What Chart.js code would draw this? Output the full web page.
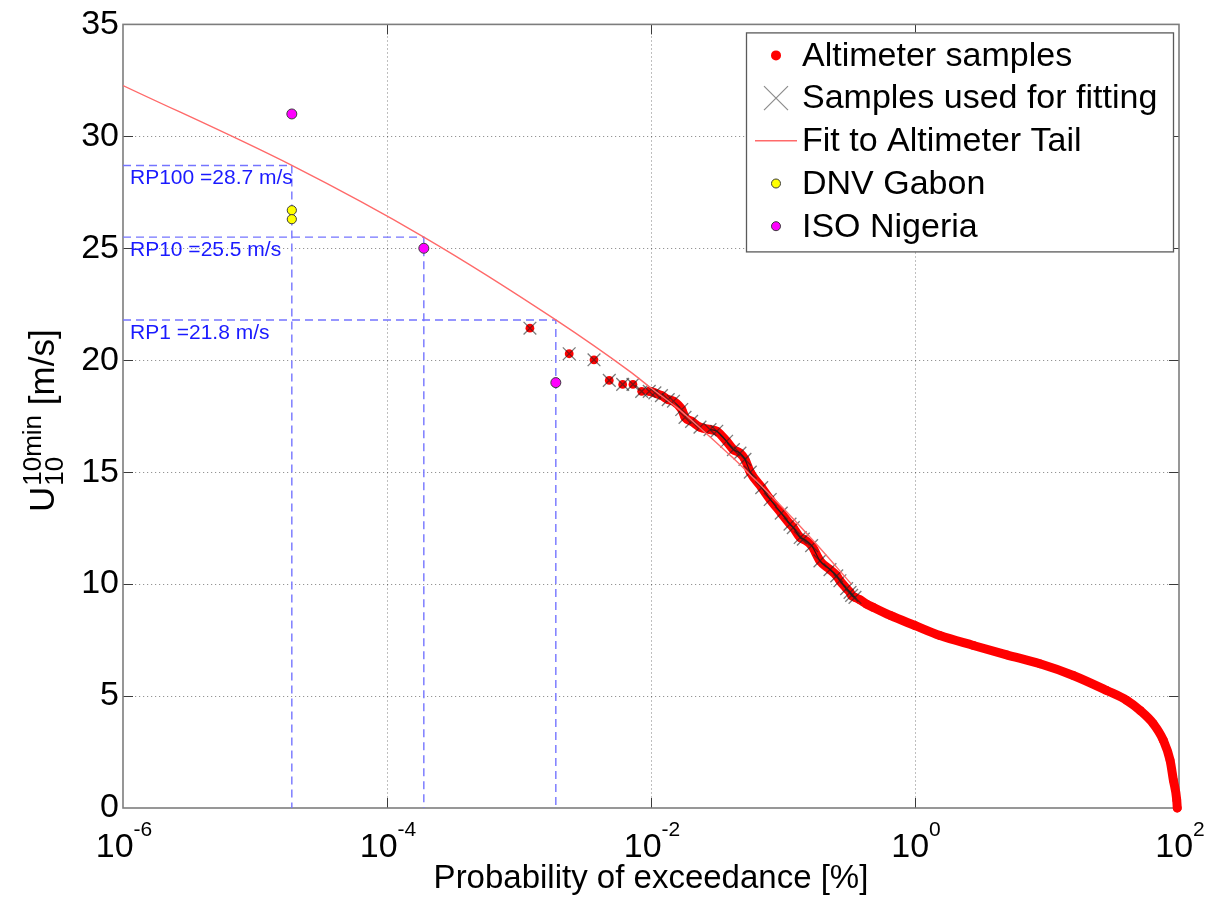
<!DOCTYPE html>
<html><head><meta charset="utf-8">
<script src="https://cdn.jsdelivr.net/npm/chart.js@4.4.1/dist/chart.umd.min.js"></script>
<style>html,body{margin:0;padding:0;background:#fff;}#wrap{width:1209px;height:899px;}</style>
</head><body><div id="wrap"><canvas id="c" width="1209" height="899"></canvas></div>
<script>
const FONT = "'Liberation Sans', Arial, Helvetica, sans-serif";

// Altimeter samples: probability of exceedance [%] and U10 (10 min) [m/s]
const altProb = [0.00121,0.00240,0.00370,0.00483,0.0061,0.0073,0.0085,0.0097,0.0107,0.0120,0.0135,0.0148,0.0171,0.0181,0.0203,0.0235,0.0280,0.0315,0.0374,0.0421,0.0472,0.0515,0.0565,0.069,0.080,0.097,0.113,0.1197,0.135,0.1426,0.1648,0.1905,0.227,0.2553,0.270,0.3034,0.322,0.3311,0.351,0.383,0.43,0.483,0.65,1.0,1.545,2.77,4.95,8.85,15.8,28.3,40.2,50.7,63.8,76.0,85.5,90.6,96.1,97.0];
const altSpeed = [21.43,20.29,20.02,19.10,18.92,18.92,18.61,18.61,18.54,18.42,18.24,18.17,17.80,17.45,17.27,17.01,16.90,16.83,16.38,16.01,15.85,15.57,15.0,14.31,13.78,13.17,12.68,12.52,12.08,12.01,11.72,11.04,10.65,10.37,10.15,9.80,9.63,9.50,9.41,9.30,9.11,8.96,8.60,8.15,7.70,7.26,6.84,6.44,5.92,5.25,4.81,4.36,3.77,3.03,2.14,1.25,0.36,0.0];
// samples used for fitting: the altimeter tail up to this probability [%]
const fitTailLimit = 0.36;
// Fit to altimeter tail
const fitProb = [1e-6,1.901e-5,1.901e-4,1.901e-3,0.0069,0.01,0.0158,0.0251,0.0417,0.0562,0.1,0.178,0.33];
const fitSpeed = [32.27,28.7,25.5,21.8,19.5,18.76,17.87,16.83,15.64,14.9,13.4,11.8,10.0];
// Return periods
const rpNames = ['RP100','RP10','RP1'];
const rpProb = [1.901e-5,1.901e-4,1.901e-3];
const rpSpeed = [28.7,25.5,21.8];
// Reference design values
const dnvProb = [1.901e-5,1.901e-5];
const dnvSpeed = [26.7,26.3];
const isoProb = [1.901e-5,1.901e-4,1.901e-3];
const isoSpeed = [31.0,25.0,19.0];
// Axes
const xTickExps = [-6,-4,-2,0,2];
const yTickValues = [0,5,10,15,20,25,30,35];

const pts = (xs, ys) => xs.map((v,i)=>({x:v,y:ys[i]}));
const fitSampleIdx = altProb.map((p,i)=>i).filter(i=>altProb[i] <= fitTailLimit);

const C = {
  red:'#ff0000', fit:'#ff6a6a', rp:'#7474ff', rpText:'#1a1aff',
  yellow:'#ffff00', magenta:'#ff00ff', edge:'#3c3c3c', xmark:'rgba(35,35,35,0.6)'
};

const rpSets = rpNames.map((n,i)=>({
  label:n, data:[{x:10**xTickExps[0],y:rpSpeed[i]},{x:rpProb[i],y:rpSpeed[i]},{x:rpProb[i],y:0}],
  showLine:true, borderColor:C.rp, borderWidth:1.4, borderDash:[8,5], pointRadius:0, tension:0, order:10
}));

const decor = {
  id:'decor',
  beforeDatasetsDraw(chart){
    const {ctx, chartArea:a, scales:{x,y}} = chart;
    ctx.save();
    const ln=(x1,y1,x2,y2)=>{ctx.beginPath();ctx.moveTo(x1,y1);ctx.lineTo(x2,y2);ctx.stroke();};
    ctx.strokeStyle='rgba(0,0,0,0.42)'; ctx.lineWidth=1; ctx.setLineDash([1.2,2.8]);
    yTickValues.forEach(v=>{ if(v<=0||v>=35) return; const p=Math.round(y.getPixelForValue(v))+0.5; ln(a.left,p,a.right,p); });
    xTickExps.forEach(e=>{ if(e<=-6||e>=2) return; const p=Math.round(x.getPixelForValue(10**e))+0.5; ln(p,a.top,p,a.bottom); });
    ctx.setLineDash([]);
    ctx.strokeStyle='#3a3a3a'; ctx.lineWidth=1;
    yTickValues.forEach(v=>{ if(v<=0||v>=35) return; const p=Math.round(y.getPixelForValue(v))+0.5; ln(a.left,p,a.left+10,p); ln(a.right-10,p,a.right,p); });
    xTickExps.forEach(e=>{ if(e<=-6||e>=2) return; const p=Math.round(x.getPixelForValue(10**e))+0.5; ln(p,a.bottom,p,a.bottom-10); ln(p,a.top,p,a.top+10); });
    ctx.strokeStyle='#7d7d7d'; ctx.lineWidth=1.6;
    ctx.strokeRect(a.left,a.top,a.right-a.left,a.bottom-a.top);
    ctx.restore();
  },
  afterDatasetsDraw(chart){
    const {ctx, chartArea:a, scales:{x,y}} = chart;
    ctx.save();
    // RP labels
    ctx.font = "21px "+FONT; ctx.fillStyle=C.rpText; ctx.textBaseline='alphabetic'; ctx.textAlign='left';
    rpNames.forEach((n,i)=>{
      ctx.fillText(n+' ='+rpSpeed[i].toFixed(1)+' m/s', x.getPixelForValue(10**xTickExps[0])+7, y.getPixelForValue(rpSpeed[i])+19);
    });
    // legend
    const L = a.right-433, T = a.top+8, W = 427, H = 219;
    ctx.fillStyle='#fff'; ctx.fillRect(L,T,W,H);
    ctx.strokeStyle='#5a5a5a'; ctx.lineWidth=1.3; ctx.strokeRect(L+0.5,T+0.5,W,H);
    const names = ['Altimeter samples','Samples used for fitting','Fit to Altimeter Tail','DNV Gabon','ISO Nigeria'];
    const mx = L+30;
    names.forEach((n,i)=>{
      const cy = T+23+i*42.7;
      if(i===0){ ctx.fillStyle=C.red; ctx.beginPath(); ctx.arc(mx,cy,5,0,Math.PI*2); ctx.fill(); }
      if(i===1){ ctx.strokeStyle='#8c8c8c'; ctx.lineWidth=1.2; ctx.beginPath(); ctx.moveTo(mx-12,cy-12); ctx.lineTo(mx+12,cy+12); ctx.moveTo(mx-12,cy+12); ctx.lineTo(mx+12,cy-12); ctx.stroke(); }
      if(i===2){ ctx.strokeStyle=C.fit; ctx.lineWidth=1.4; ctx.beginPath(); ctx.moveTo(L+9,cy); ctx.lineTo(L+51,cy); ctx.stroke(); }
      if(i===3||i===4){ ctx.fillStyle=i===3?C.yellow:C.magenta; ctx.strokeStyle=C.edge; ctx.lineWidth=1; ctx.beginPath(); ctx.arc(mx,cy,4.5,0,Math.PI*2); ctx.fill(); ctx.stroke(); }
      ctx.fillStyle='#000'; ctx.font="34px "+FONT; ctx.textBaseline='middle'; ctx.textAlign='left';
      ctx.fillText(n, L+56, cy+1);
    });
    ctx.restore();
  },
  afterDraw(chart){
    const {ctx, chartArea:a, scales:{x}} = chart;
    ctx.save();
    ctx.fillStyle='#000'; ctx.textBaseline='alphabetic'; ctx.textAlign='left';
    // x tick labels 10^e
    xTickExps.forEach(e=>{
      const px = x.getPixelForValue(10**e);
      ctx.font="34px "+FONT; const w1=ctx.measureText('10').width;
      const es = (e<0?'-':'')+Math.abs(e);
      ctx.font="21px "+FONT; const w2=ctx.measureText(es).width;
      const s = px-(w1+w2)/2+1;
      ctx.font="34px "+FONT; ctx.fillText('10', s, a.bottom+49);
      ctx.font="21px "+FONT; ctx.fillText(es, s+w1, a.bottom+28);
    });
    // y axis title U_10^10min [m/s]
    const cy = (a.top+a.bottom)/2+5, bx = 54;
    ctx.translate(bx, cy); ctx.rotate(-Math.PI/2);
    ctx.font="35px "+FONT; const wU=ctx.measureText('U').width;
    ctx.font="26px "+FONT; const wSub=ctx.measureText('10').width, wSup=ctx.measureText('10min').width;
    ctx.font="35px "+FONT; const wUnit=ctx.measureText(' [m/s]').width;
    const total = wU+Math.max(wSub,wSup)+wUnit;
    let sx = -total/2;
    ctx.font="35px "+FONT; ctx.fillText('U', sx, 0); sx+=wU;
    ctx.font="26px "+FONT; ctx.fillText('10', sx+1, 9); ctx.fillText('10min', sx+1, -13); sx+=Math.max(wSub,wSup)+1;
    ctx.font="35px "+FONT; ctx.fillText(' [m/s]', sx, 0);
    ctx.restore();
  }
};

Chart.defaults.font.family = FONT;
Chart.defaults.color = '#000';

new Chart(document.getElementById('c'), {
  type:'line',
  data:{ datasets:[
    { label:'ISO Nigeria', data:pts(isoProb,isoSpeed), showLine:false, pointRadius:5, pointBackgroundColor:C.magenta, pointBorderColor:C.edge, pointBorderWidth:1, order:0 },
    { label:'DNV Gabon', data:pts(dnvProb,dnvSpeed), showLine:false, pointRadius:4.6, pointBackgroundColor:C.yellow, pointBorderColor:C.edge, pointBorderWidth:1, order:1 },
    { label:'Fit to Altimeter Tail', data:pts(fitProb,fitSpeed), showLine:true, borderColor:C.fit, borderWidth:1.4, pointRadius:0, cubicInterpolationMode:'monotone', order:2 },
    { label:'Samples used for fitting', data:fitSampleIdx.map(i=>({x:altProb[i],y:altSpeed[i]})), showLine:true, borderColor:'rgba(20,20,20,0.85)', borderWidth:1.2, cubicInterpolationMode:'monotone',
      segment:{ borderColor: c => c.p0.parsed.x < 0.025 ? 'rgba(0,0,0,0)' : undefined },
      pointStyle:'crossRot', pointRadius:9, pointBorderColor:C.xmark, pointBackgroundColor:'rgba(0,0,0,0)', pointBorderWidth:1.3, order:3 },
    { label:'Altimeter samples', data:pts(altProb,altSpeed), showLine:true, borderColor:C.red, borderWidth:9, borderCapStyle:'round', borderJoinStyle:'round', cubicInterpolationMode:'monotone', clip:false,
      segment:{ borderColor: c => c.p0.parsed.x < 0.0095 ? 'rgba(0,0,0,0)' : undefined },
      pointRadius:4.4, pointBackgroundColor:C.red, pointBorderWidth:0, order:4 },
    ...rpSets
  ]},
  options:{
    responsive:false, animation:false, devicePixelRatio:1,
    layout:{ padding:{ top:22, right:30, bottom:0, left:0 } },
    plugins:{ legend:{display:false}, tooltip:{enabled:false} },
    scales:{
      x:{ type:'logarithmic', min:1e-6, max:100,
          grid:{display:false, drawTicks:false}, border:{display:false},
          ticks:{display:false},
          title:{ display:true, text:'Probability of exceedance [%]', font:{size:33}, color:'#000', padding:{top:0,bottom:0} },
          afterFit(s){ s.height = 91; } },
      y:{ type:'linear', min:0, max:35,
          grid:{display:false, drawTicks:false}, border:{display:false},
          ticks:{ stepSize:5, font:{size:34}, color:'#000', padding:4 },
          afterBuildTicks(s){ s.ticks = yTickValues.map(v=>({value:v})); },
          afterFit(s){ s.width = 123; } }
    }
  },
  plugins:[decor]
});
</script></body></html>
